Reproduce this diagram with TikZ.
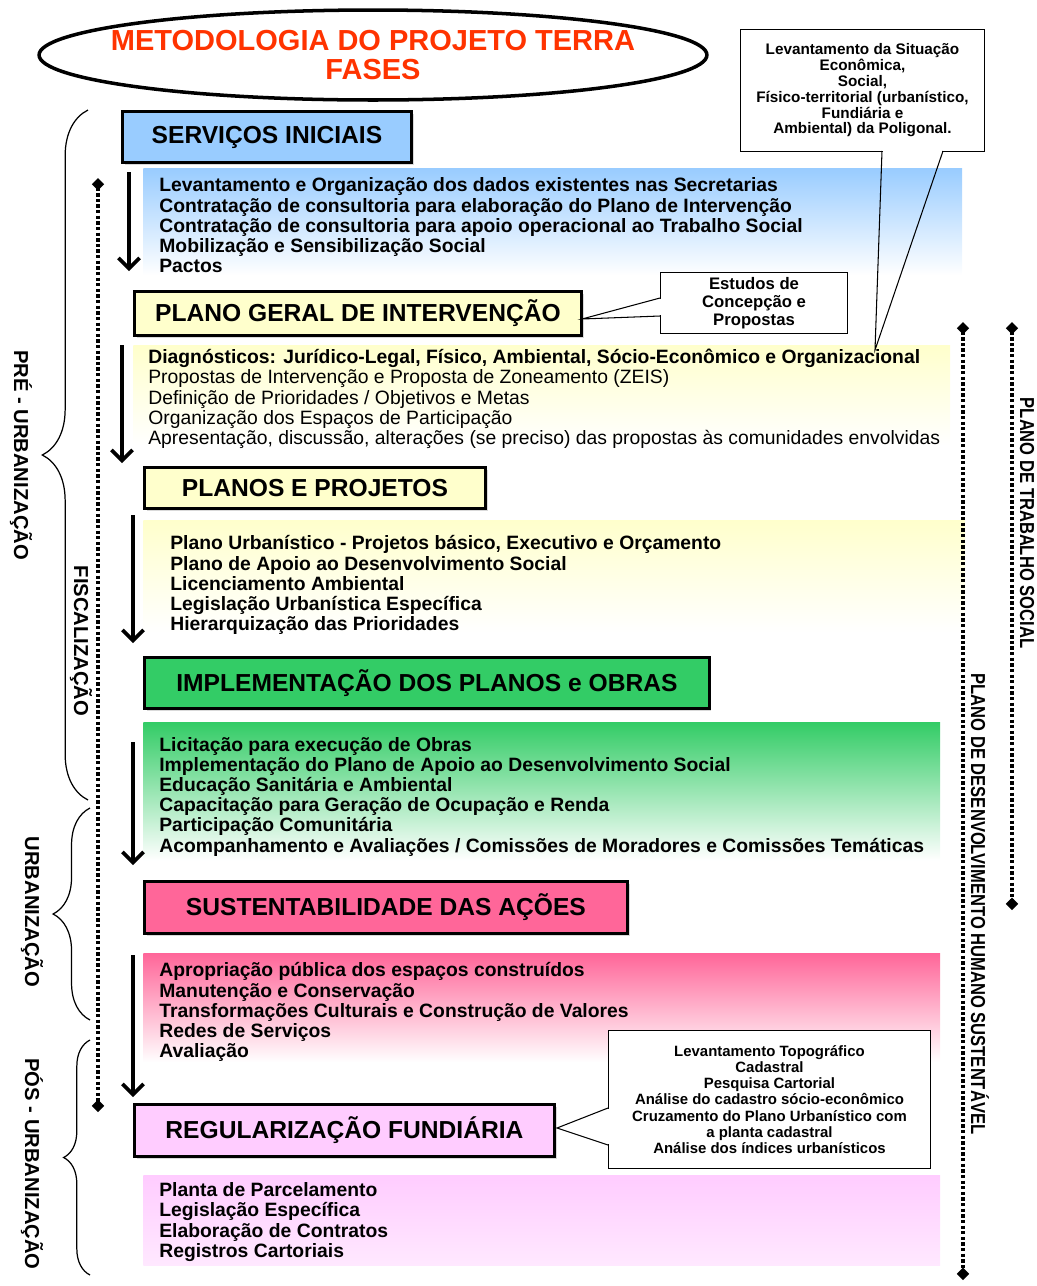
\documentclass[tikz,border=0pt]{standalone}
\usepackage{fontspec}
\setmainfont{Liberation Sans}
\newfontfamily\narrowsans[FakeStretch=0.82]{Liberation Sans}
\usetikzlibrary{positioning, arrows.meta, shapes.geometric, decorations.pathreplacing, shadows}

\definecolor{titlered}{RGB}{255,51,0}
\definecolor{blueH}{RGB}{153,204,255}
\definecolor{yellowH}{RGB}{255,255,204}
\definecolor{greenH}{RGB}{51,204,102}
\definecolor{pinkH}{RGB}{255,102,153}
\definecolor{violetH}{RGB}{255,204,255}

\begin{document}
\begin{tikzpicture}[
    x=0.02cm, y=-0.02cm,
    head/.style={draw, line width=1.7pt, anchor=north west, inner sep=0pt,
                 font=\fontsize{14}{16}\selectfont\bfseries,
                 drop shadow={shadow xshift=1.2pt, shadow yshift=-1.2pt, opacity=0.3}},
    band/.style={anchor=north west, inner sep=0pt, bottom color=white},
    bandtxt/.style={align=left, inner sep=0pt, font=\fontsize{11}{11.5}\selectfont\bfseries},
    note/.style={draw, fill=white, line width=0.6pt, anchor=north west, align=center,
                 inner sep=2pt, font=\fontsize{8.5}{9.2}\selectfont\bfseries},
    flow/.style={line width=2.1pt, -{Straight Barb[length=6pt, width=12pt, line width=2.1pt]}},
    dotline/.style={line width=2.2pt, dash pattern=on 1.9pt off 1.3pt,
                    {Diamond[length=7pt, width=7pt]}-{Diamond[length=7pt, width=7pt]}},
    curly/.style={decorate, decoration={brace, amplitude=#1}, line width=0.7pt},
    side/.style={rotate=-90, inner sep=0pt, font=\fontsize{11.5}{13}\selectfont\bfseries},
    sidenarrow/.style={rotate=-90, inner sep=0pt, font=\fontsize{11.5}{13}\selectfont\narrowsans\bfseries}
]
\useasboundingbox (0,0) rectangle (1037,1286);

% title
\node[ellipse, draw, line width=2pt, minimum width=13.36cm, minimum height=1.8cm, inner sep=0pt] (titleframe) at (373,55) {};
\node[align=center, text=titlered, font=\fontsize{16.5}{17}\selectfont\bfseries] (title) at (titleframe.center) {METODOLOGIA DO PROJETO TERRA\\FASES};

% bands
\node[band, top color=blueH, minimum width=16.38cm, minimum height=2.14cm] (blueband) at (143,168) {};
\node[bandtxt, right=0.32cm of blueband.west, yshift=-2pt] (bluetxt) {Levantamento e Organização dos dados existentes nas Secretarias\\
Contratação de consultoria para elaboração do Plano de Intervenção\\
Contratação de consultoria para apoio operacional ao Trabalho Social\\
Mobilização e Sensibilização Social\\
Pactos};

\node[band, top color=yellowH, minimum width=16.34cm, minimum height=2.0cm] (diagband) at (133,345) {};
\node[bandtxt, right=0.3cm of diagband.west, yshift=-2pt] (diagtxt) {Diagnósticos: Jurídico-Legal, Físico, Ambiental, Sócio-Econômico e Organizacional\\
\mdseries Propostas de Intervenção e Proposta de Zoneamento (ZEIS)\\
\mdseries Definição de Prioridades / Objetivos e Metas\\
\mdseries Organização dos Espaços de Participação\\
\mdseries Apresentação, discussão, alterações (se preciso) das propostas às comunidades envolvidas};

\node[band, top color=yellowH, minimum width=16.44cm, minimum height=2.24cm] (projband) at (143,520) {};
\node[bandtxt, right=0.54cm of projband.west, yshift=-5pt] (projtxt) {Plano Urbanístico - Projetos básico, Executivo e Orçamento\\
Plano de Apoio ao Desenvolvimento Social\\
Licenciamento Ambiental\\
Legislação Urbanística Específica\\
Hierarquização das Prioridades};

\node[band, top color=greenH, minimum width=15.94cm, minimum height=2.76cm] (obraband) at (143,722) {};
\node[bandtxt, right=0.32cm of obraband.west, yshift=-3pt] (obratxt) {Licitação para execução de Obras\\
Implementação do Plano de Apoio ao Desenvolvimento Social\\
Educação Sanitária e Ambiental\\
Capacitação para Geração de Ocupação e Renda\\
Participação Comunitária\\
Acompanhamento e Avaliações / Comissões de Moradores e Comissões Temáticas};

\node[band, top color=pinkH, minimum width=15.94cm, minimum height=2.18cm] (sustband) at (143,953) {};
\node[bandtxt, right=0.32cm of sustband.west, yshift=-2.5pt] (susttxt) {Apropriação pública dos espaços construídos\\
Manutenção e Conservação\\
Transformações Culturais e Construção de Valores\\
Redes de Serviços\\
Avaliação};

\node[band, top color=violetH, bottom color=violetH!45, minimum width=15.94cm, minimum height=1.8cm] (fundband) at (143,1175) {};
\node[bandtxt, right=0.32cm of fundband.west, yshift=-1pt] (fundtxt) {Planta de Parcelamento\\
Legislação Específica\\
Elaboração de Contratos\\
Registros Cartoriais};

% phase headings
\node[head, fill=blueH,   minimum width=5.78cm, minimum height=1.02cm] (servicos) at (121,110) {SERVIÇOS INICIAIS};
\node[head, fill=yellowH, minimum width=8.94cm, minimum height=0.88cm] (plano)    at (133,290) {PLANO GERAL DE INTERVENÇÃO};
\node[head, fill=yellowH, minimum width=6.82cm, minimum height=0.82cm] (planos)   at (143,466) {PLANOS E PROJETOS};
\node[head, fill=greenH,  minimum width=11.3cm, minimum height=1.02cm] (implem)   at (143,656) {IMPLEMENTAÇÃO DOS PLANOS e OBRAS};
\node[head, fill=pinkH,   minimum width=9.66cm, minimum height=1.04cm] (sustent)  at (143,880) {SUSTENTABILIDADE DAS AÇÕES};
\node[head, fill=violetH, minimum width=8.4cm,  minimum height=1.04cm] (regular)  at (133,1103) {REGULARIZAÇÃO FUNDIÁRIA};

% callouts
\node[note, minimum width=4.88cm, minimum height=2.44cm, font=\fontsize{8.7}{9}\selectfont\bfseries] (situacao) at (740,29) {Levantamento da Situação\\Econômica,\\Social,\\Físico-territorial (urbanístico,\\Fundiária e\\Ambiental) da Poligonal.};
\coordinate (sitA) at (882,151);
\coordinate (sitB) at (943,151);
\coordinate (sitTip) at (875,350);
\draw[white, line width=1.4pt] ([xshift=0.4pt]sitA) -- ([xshift=-0.4pt]sitB);
\draw[line width=0.6pt] (sitA) -- (sitTip) -- (sitB);

\node[note, minimum width=3.74cm, minimum height=1.22cm, font=\fontsize{9.5}{10.2}\selectfont\bfseries] (estudos) at (660,272) {Estudos de\\Concepção e\\Propostas};
\coordinate (estA) at (660,298);
\coordinate (estB) at (660,316);
\coordinate (estTip) at (582,319);
\draw[white, line width=1.4pt] ([yshift=-0.4pt]estA) -- ([yshift=0.4pt]estB);
\draw[line width=0.6pt] (estA) -- (estTip) -- (estB);

\node[note, minimum width=6.44cm, minimum height=2.76cm] (cadastro) at (608,1030) {Levantamento Topográfico\\Cadastral\\Pesquisa Cartorial\\Análise do cadastro sócio-econômico\\Cruzamento do Plano Urbanístico com\\a planta cadastral\\Análise dos índices urbanísticos};
\coordinate (cadA) at (608,1108);
\coordinate (cadB) at (608,1145);
\coordinate (cadTip) at (557,1128);
\draw[white, line width=1.4pt] ([yshift=-0.4pt]cadA) -- ([yshift=0.4pt]cadB);
\draw[line width=0.6pt] (cadA) -- (cadTip) -- (cadB);

% flow arrows
\coordinate (f1a) at (129,172);  \coordinate (f1b) at (129,271);
\coordinate (f2a) at (122,345);  \coordinate (f2b) at (122,463);
\coordinate (f3a) at (133,515);  \coordinate (f3b) at (133,643);
\coordinate (f4a) at (133,742);  \coordinate (f4b) at (133,865);
\coordinate (f5a) at (133,955);  \coordinate (f5b) at (133,1097);
\draw[flow] (f1a) -- (f1b);
\draw[flow] (f2a) -- (f2b);
\draw[flow] (f3a) -- (f3b);
\draw[flow] (f4a) -- (f4b);
\draw[flow] (f5a) -- (f5b);

% dotted spans
\coordinate (fiscTop) at (98,178);   \coordinate (fiscBot) at (98,1112);
\coordinate (desTop) at (963,322);   \coordinate (desBot) at (963,1280);
\coordinate (trabTop) at (1012,322); \coordinate (trabBot) at (1012,910);
\draw[dotline] (fiscTop) -- (fiscBot);
\draw[dotline] (desTop) -- (desBot);
\draw[dotline] (trabTop) -- (trabBot);
\node[side] (fisc) at (81,641) {FISCALIZAÇÃO};
\node[sidenarrow] (desenv) at (980,904) {PLANO DE DESENVOLVIMENTO HUMANO SUSTENTÁVEL};
\node[sidenarrow] (trab) at (1027,523) {PLANO DE TRABALHO SOCIAL};

% stage braces
\coordinate (preBot) at (88,800);  \coordinate (preTop) at (88,110);
\coordinate (urbBot) at (90,1020); \coordinate (urbTop) at (90,808);
\coordinate (posBot) at (90,1275); \coordinate (posTop) at (90,1040);
\draw[curly=26pt] (preBot) -- (preTop);
\draw[curly=21pt] (urbBot) -- (urbTop);
\draw[curly=15pt] (posBot) -- (posTop);
\node[side] (pre) at (21,455) {PRÉ - URBANIZAÇÃO};
\node[side] (urb) at (32,912) {URBANIZAÇÃO};
\node[side] (pos) at (32,1164) {PÓS - URBANIZAÇÃO};
\end{tikzpicture}
\end{document}
